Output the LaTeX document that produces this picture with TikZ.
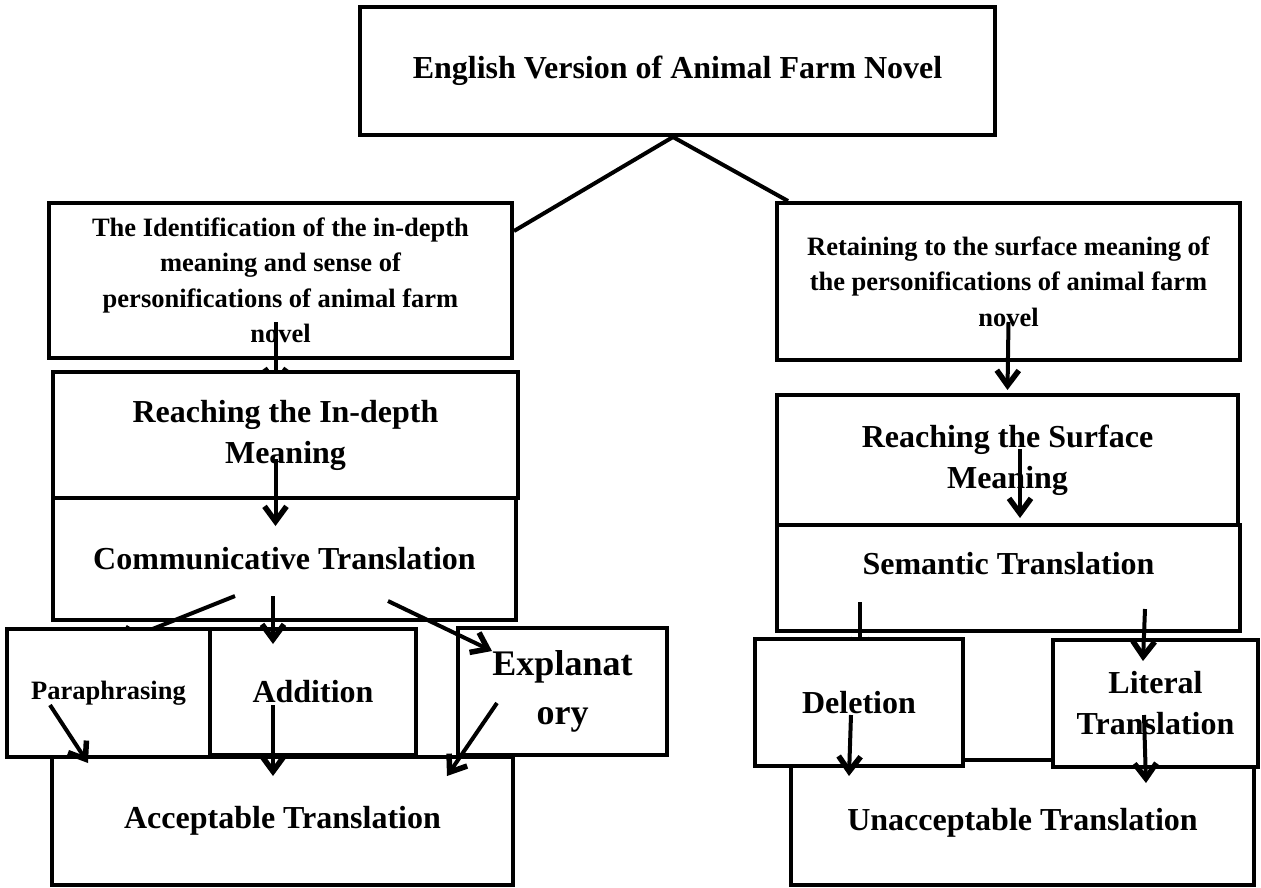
\documentclass[tikz,border=0pt]{standalone}
\usepackage{fontspec}
\setmainfont{Liberation Serif}
\usetikzlibrary{arrows.meta,calc}
\newcommand{\ArrTip}{Straight Barb[length=15pt,width=22pt,line width=5.5pt]}
\tikzset{box/.style={draw,line width=4pt,fill=white,inner sep=0pt,align=center,font=\bfseries\fontsize{32}{41}\selectfont}}
\tikzset{smallbox/.style={box,font=\bfseries\fontsize{26.5}{35.5}\selectfont}}
\tikzset{arr/.style={line width=4pt,-{\ArrTip}}}
\begin{document}
\begin{tikzpicture}[x=1pt,y=-1pt]
\useasboundingbox(0,0)rectangle(1261,887);
\node[box,minimum width=635pt,minimum height=128pt](eng)at(677.5,71){English Version of Animal Farm Novel};
\node[smallbox,minimum width=463pt,minimum height=155pt](idf)at(280.5,280.5){The Identification of the in-depth\\meaning and sense of\\personifications of animal farm\\novel};
\node[smallbox,minimum width=463pt,minimum height=157pt](ret)at(1008.5,281.5){Retaining to the surface meaning of\\the personifications of animal farm\\novel};
\draw[line width=4pt]([xshift=-4.5pt]eng.south)--([yshift=-30pt]idf.north east);\draw[line width=4pt]([xshift=-4.5pt]eng.south)--([xshift=13pt]ret.north west);
\draw[arr]([xshift=-5pt,yshift=38pt]idf.south)--([xshift=-5pt,yshift=-28pt]idf.south);
\node[box,minimum width=465pt,minimum height=126pt](rin)at(285.5,435){Reaching the In-depth\\Meaning};
\node[box,minimum width=463pt,minimum height=122pt](com)at(284.5,559){Communicative Translation};
\draw[arr]([xshift=-10pt,yshift=-24pt]rin.center)--([xshift=-9pt,yshift=-30pt]com.north);
\draw[arr]([xshift=-49.5pt,yshift=26pt]com.south)--([xshift=-169.5pt,yshift=-22pt]com.south);
\node[smallbox,minimum width=203pt,minimum height=128pt](par)at(108.5,693){Paraphrasing};
\node[box,minimum width=206pt,minimum height=126pt](add)at(313,692){Addition};
\node[box,minimum width=209pt,minimum height=127pt,font=\bfseries\fontsize{36}{49}\selectfont](exp)at(562.5,691.5){Explanat\\ory};
\draw[arr]([xshift=-11.5pt,yshift=26pt]com.south)--([xshift=-40pt,yshift=-17pt]add.north);
\draw[arr]([xshift=103.5pt,yshift=21pt]com.south)--([xshift=-70.5pt,yshift=-25pt]exp.north);
\node[box,minimum width=461pt,minimum height=128pt](acc)at(282.5,821){Acceptable Translation};
\draw[arr]([xshift=-58.5pt,yshift=-12pt]par.center)--([xshift=38pt,yshift=-8pt]acc.north west);
\draw[arr]([xshift=-40pt,yshift=-13pt]add.center)--([xshift=-9.5pt,yshift=-21pt]acc.north);
\draw[arr]([xshift=-65.5pt,yshift=-11.5pt]exp.center)--([xshift=-68pt,yshift=-21pt]acc.north east);
\node[box,minimum width=461pt,minimum height=130pt](rsu)at(1007.5,460){Reaching the Surface\\Meaning};
\node[box,minimum width=463pt,minimum height=106pt,text depth=29pt](sem)at(1008.5,578){Semantic Translation};
\draw[arr]([yshift=40pt]ret.south)--([yshift=3pt]rsu.north);
\draw[arr]([xshift=12.5pt,yshift=11pt]rsu.center)--([xshift=11.5pt,yshift=5pt]sem.north);
\draw[arr]([xshift=85pt,yshift=31pt]sem.south west)--([xshift=85pt,yshift=-25pt]sem.south west);
\node[box,minimum width=463pt,minimum height=125pt](una)at(1022.5,822.5){Unacceptable Translation};
\node[box,minimum width=208pt,minimum height=127pt](del)at(859,702.5){Deletion};
\node[box,minimum width=205pt,minimum height=127pt](lit)at(1155.5,703.5){Literal\\Translation};
\draw[arr]([xshift=-97pt,yshift=24pt]sem.south east)--([xshift=-12.5pt,yshift=-23pt]lit.north);
\draw[arr]([xshift=-8pt,yshift=-12.5pt]del.center)--([xshift=60pt,yshift=-18pt]una.north west);
\draw[arr]([xshift=-11.5pt,yshift=-11.5pt]lit.center)--([xshift=-110pt,yshift=-25pt]una.north east);
\end{tikzpicture}
\end{document}
